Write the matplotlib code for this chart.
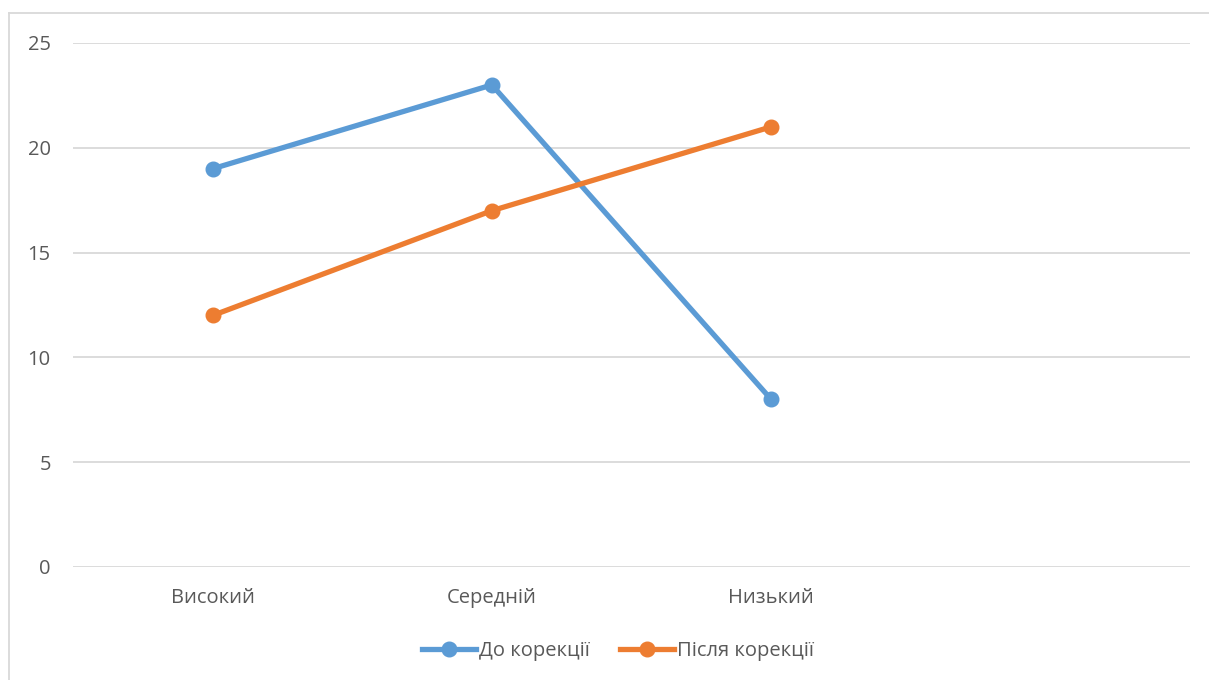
import matplotlib
matplotlib.use("Agg")
import matplotlib.pyplot as plt
from matplotlib.lines import Line2D

categories = ["Високий", "Середній", "Низький", ""]
before = [19, 23, 8]
after = [12, 17, 21]
series_names = ["До корекції", "Після корекції"]
y_ticks = [0, 5, 10, 15, 20, 25]

plt.rcParams["font.family"] = ["Open Sans", "DejaVu Sans"]
text_color = "#595959"
grid_color = "#D9D9D9"
blue = "#5B9BD5"
orange = "#ED7D31"
fs = 14.5

fig = plt.figure(figsize=(12.09, 6.8), dpi=100)
ax = fig.add_axes([73 / 1209, 1 - 567 / 680, (1190 - 73) / 1209, (567 - 43) / 680])

x = list(range(len(categories)))
ax.plot(x[:len(before)], before, color=blue, lw=3.8, marker="o", ms=10.5,
        solid_capstyle="round", zorder=3)
ax.plot(x[:len(after)], after, color=orange, lw=3.8, marker="o", ms=10.5,
        solid_capstyle="round", zorder=3)

ax.set_xlim(-0.5, len(categories) - 0.5)
ax.set_ylim(0, 25)
ax.set_yticks(y_ticks)
ax.set_xticks(x)
ax.set_xticklabels(categories)
ax.yaxis.grid(True, color=grid_color, lw=1.3)
ax.set_axisbelow(True)
for s in ax.spines.values():
    s.set_visible(False)
ax.tick_params(axis="both", length=0, labelsize=fs, labelcolor=text_color)
ax.tick_params(axis="y", pad=16)
ax.tick_params(axis="x", pad=15)

# chart area border (left and top edges)
fig.add_artist(Line2D([9 / 1209, 9 / 1209], [0, 1 - 13 / 680], color=grid_color,
                      lw=1.3, transform=fig.transFigure))
fig.add_artist(Line2D([9 / 1209, 1], [1 - 13 / 680, 1 - 13 / 680], color=grid_color,
                      lw=1.3, transform=fig.transFigure))

handles = [Line2D([], [], color=blue, lw=3.8, marker="o", ms=10.5),
           Line2D([], [], color=orange, lw=3.8, marker="o", ms=10.5)]
leg = fig.legend(handles, series_names, loc="center", bbox_to_anchor=(618 / 1209, 1 - 651 / 680),
                 ncol=2, frameon=False, fontsize=fs, handlelength=2.7,
                 handletextpad=0.15, columnspacing=1.5, labelcolor=text_color)

fig.savefig("out.png", dpi=100, facecolor="white")
